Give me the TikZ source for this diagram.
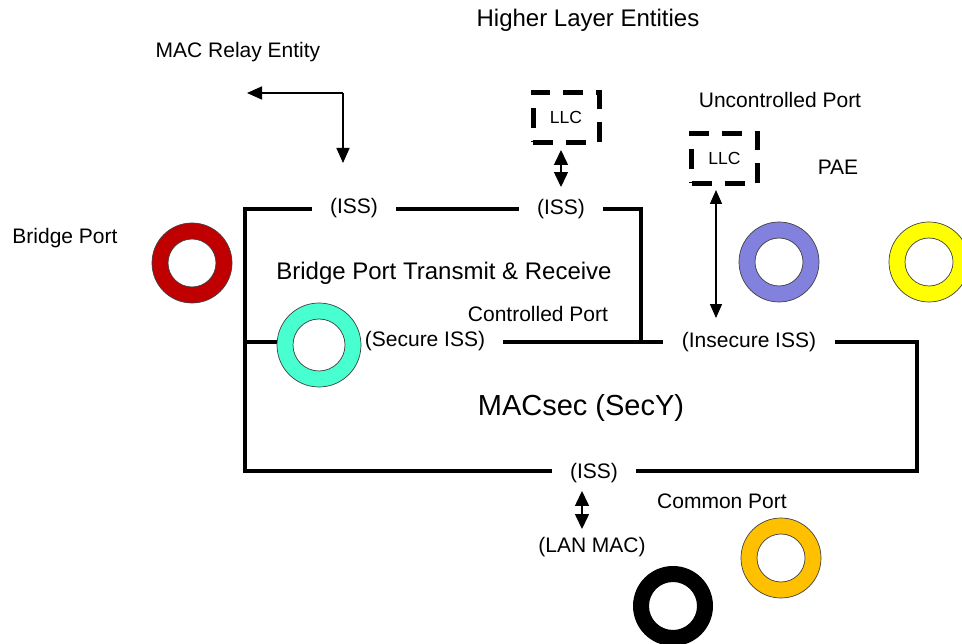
\documentclass[tikz,border=0pt]{standalone}
\usepackage{fontspec}
\setmainfont{Liberation Sans}
\usetikzlibrary{arrows.meta}

\definecolor{portred}{RGB}{192,0,0}
\definecolor{pailac}{RGB}{130,130,222}
\definecolor{paeyel}{RGB}{255,255,0}
\definecolor{secteal}{RGB}{72,255,208}
\definecolor{comgold}{RGB}{255,192,0}

\tikzset{
  wire/.style={line width=4.5pt, line cap=rect},
  lbl/.style={font=\fontsize{21}{24}\selectfont, inner sep=0pt},
  gaplbl/.style={lbl, inner xsep=20pt},
  biglbl/.style={font=\fontsize{24}{28}\selectfont, inner sep=0pt},
  hugelbl/.style={font=\fontsize{29}{34}\selectfont, inner sep=0pt},
  llcbox/.style={draw, line width=5pt, dash pattern=on 20pt off 13pt,
    minimum width=66pt, minimum height=50pt, inner sep=0pt,
    font=\fontsize{17.5}{20}\selectfont},
  thinarrow/.style={line width=1.5pt, -{Triangle[length=15pt,width=13pt]}},
  dblarrow/.style={line width=1.5pt,
    {Triangle[length=15pt,width=14pt]}-{Triangle[length=15pt,width=14pt]}},
  ringedge/.style={draw=black!75, line width=0.7pt}
}

% ring: centre, outer radius, inner radius, colour
\newcommand{\portring}[4]{%
  \fill[#4, even odd rule] (#1) circle (#2) (#1) circle (#3);
  \draw[ringedge] (#1) circle (#2) (#1) circle (#3);
}

\begin{document}
\begin{tikzpicture}[x=1pt, y=-1pt]
\useasboundingbox (0,0) rectangle (962,644);

% headings
\node[biglbl] (hle) at (588,20) {Higher Layer Entities};
\node[lbl] (mre) at (238,52) {MAC Relay Entity};
\node[lbl] (ucp) at (780,100) {Uncontrolled Port};
\node[lbl] (pae) at (838,167) {PAE};
\node[lbl] (bpl) at (65,238) {Bridge Port};
\node[biglbl] (bptr) at (444,273) {Bridge Port Transmit \& Receive};
\node[lbl] (ctp) at (538,314) {Controlled Port};
\node[hugelbl] (secy) at (581,408) {MACsec (SecY)};
\node[lbl] (cmp) at (722,501) {Common Port};
\node[lbl] (lanmac) at (592,547) {(LAN MAC)};

% service interface labels sitting in gaps of the wires
\node[gaplbl] (issA) at (354,208) {(ISS)};
\node[gaplbl] (issB) at (561,209) {(ISS)};
\node[gaplbl] (secISS) at (425,341) {(Secure ISS)};
\node[gaplbl, inner xsep=21pt] (insISS) at (749,342) {(Insecure ISS)};
\node[gaplbl] (issC) at (594,473) {(ISS)};

% LLC boxes
\node[llcbox] (llcA) at (566,117.5) {LLC};
\node[llcbox] (llcB) at (724.5,158.5) {LLC};

% wiring corners
\coordinate (tl) at (245,209);
\coordinate (tr) at (641,209);
\coordinate (ml) at (245,342);
\coordinate (mj) at (641,342);
\coordinate (mr) at (917,342);
\coordinate (bl) at (245,471);
\coordinate (br) at (917,471);
\coordinate (secL) at (278,342);

% Bridge Port Transmit & Receive frame
\draw[wire] (issA.west |- tl) -- (tl) -- (bl) -- (issC.west |- bl);
\draw[wire] (issA.east |- tl) -- (issB.west |- tl);
\draw[wire] (issB.east |- tr) -- (tr) -- (mj);
% SecY frame
\draw[wire] (ml) -- (secL);
\draw[wire] (secISS.east |- mj) -- (insISS.west |- mj);
\draw[wire] (insISS.east |- mr) -- (mr) -- (br) -- (issC.east |- br);

% relay arrow
\coordinate (relayTip) at (247,93);
\coordinate (relayEnd) at (343,163);
\draw[thinarrow] (relayEnd |- relayTip) -- (relayTip);
\draw[thinarrow] (relayEnd |- relayTip) -- (relayEnd);

% double-headed service arrows
\draw[dblarrow, shorten <=5pt, shorten >=12pt] (llcA.south -| issB) -- (issB.north);
\draw[line width=1.5pt, {Triangle[length=14pt,width=12pt]}-{Triangle[length=14pt,width=12pt]},
  shorten <=4pt, shorten >=14pt] (llcB.south -| 716,0) -- (insISS.north -| 716,0);
\draw[dblarrow, shorten <=8pt, shorten >=8pt] (issC.south -| 582,0) -- (lanmac.north -| 582,0);

% ports
\coordinate (bridgePort) at (192,263);
\coordinate (uncPort) at (779,262);
\coordinate (paePort) at (929,262);
\coordinate (comPort) at (781,558);
\coordinate (lanPort) at (673,606);
\coordinate (secPort) at (319,345);

\portring{bridgePort}{40pt}{24pt}{portred}
\portring{uncPort}{40pt}{24pt}{pailac}
\portring{paePort}{40pt}{24pt}{paeyel}
\portring{comPort}{40pt}{24pt}{comgold}
\portring{secPort}{42pt}{26pt}{secteal}
\fill[black, even odd rule] (lanPort) circle (40pt) (lanPort) circle (24pt);
\end{tikzpicture}
\end{document}
